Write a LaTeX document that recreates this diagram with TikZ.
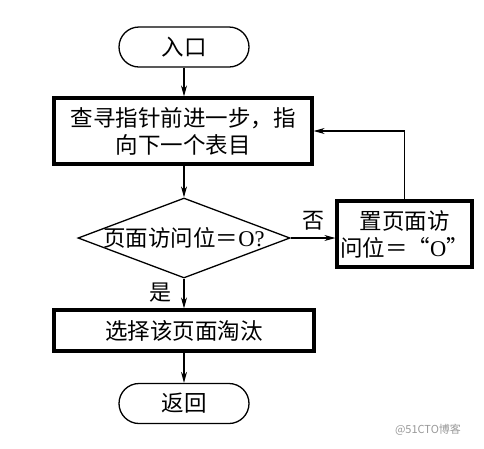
\documentclass[tikz,border=0pt]{standalone}
\usepackage{fontspec}
\setmainfont{Liberation Serif}
\newfontfamily\cjk{Noto Sans CJK SC}
\usetikzlibrary{shapes.geometric,arrows.meta}
\begin{document}
\begin{tikzpicture}[x=1pt,y=-1pt,
  txt/.style={font=\fontsize{22.5}{27}\selectfont\cjk, align=center, inner sep=0pt},
  term/.style={draw, line width=1.3pt, rounded corners=20pt, minimum width=130pt, minimum height=40pt, inner sep=0pt},
  proc/.style={draw, line width=3.2pt, inner sep=0pt},
  dec/.style={draw, diamond, line width=1.3pt, minimum width=212pt, minimum height=80pt, inner sep=0pt},
  conn/.style={line width=1.1pt, -{Stealth[length=11pt,width=6pt]}},
  lbl/.style={font=\fontsize{22}{24}\selectfont\cjk, inner sep=0pt}
]
\useasboundingbox (0,0) rectangle (484,448);
\node[term] (start) at (184,47) {};
\node[txt] (startt) at (start.center) {入口};
\node[proc, minimum width=258pt, minimum height=66pt] (b1) at (183,131) {};
\node[txt] (b1t) at (b1.center) {查寻指针前进一步，指\\向下一个表目};
\node[dec] (d) at (184,238) {};
\node[txt] (dt) at (d.center) {页面访问位＝{\rmfamily O?}};
\node[proc, minimum width=135pt, minimum height=66pt] (b2) at (404.5,234) {};
\node[txt] (b2t) at (b2.center) {置页面访\\问位＝“{\rmfamily O}”};
\node[proc, minimum width=260pt, minimum height=41pt] (b3) at (184,330.5) {};
\node[txt] (b3t) at (b3.center) {选择该页面淘汰};
\node[term] (end) at (184,403.5) {};
\node[txt] (endt) at (end.center) {返回};
\draw[conn] (start) -- (start |- b1.north);
\draw[conn] (b1.south -| d.north) -- (d.north);
\draw[conn] (d.east) -- (d.east -| b2.west);
\draw[conn] (b2.north) |- (b1.east);
\draw[conn] (d.south) -- (d.south |- b3.north);
\draw[conn] (b3.south -| end.north) -- (end.north);
\node[lbl] (no) at (313,221) {否};
\node[lbl] (yes) at (160,293) {是};
\node[font=\fontsize{11}{13}\selectfont\cjk, text=black!40, inner sep=0pt] (wm) at (428,430) {@51CTO博客};
\end{tikzpicture}
\end{document}
